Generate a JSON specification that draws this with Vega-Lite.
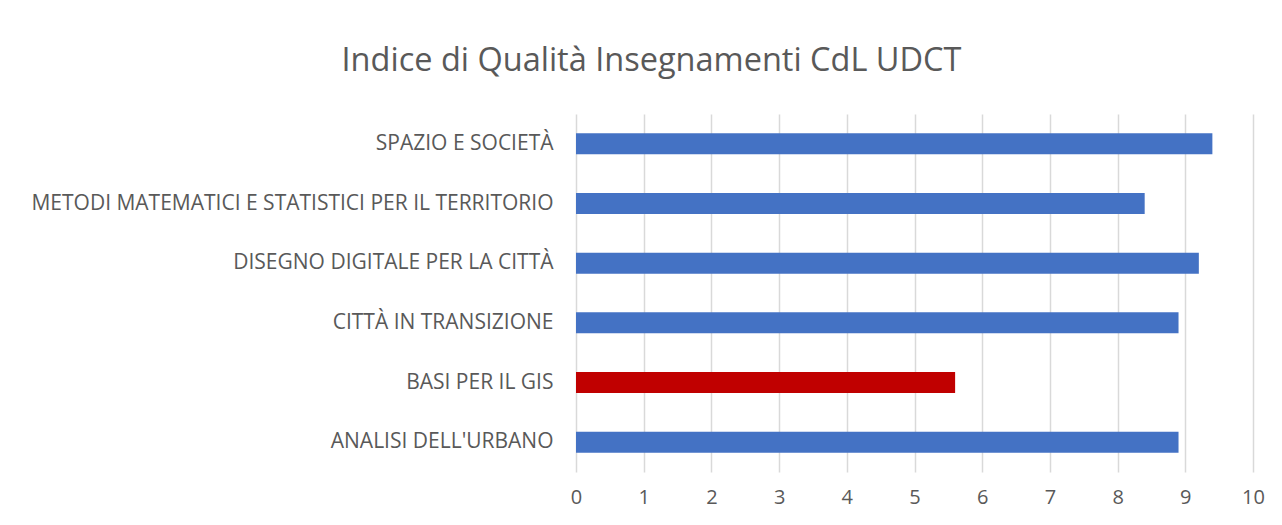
{
  "$schema": "https://vega.github.io/schema/vega-lite/v6.json",
  "width": 677,
  "height": 358,
  "autosize": {"type": "none"},
  "padding": {"left": 576, "top": 114, "right": 29, "bottom": 53},
  "background": "white",
  "title": {
    "text": "Indice di Qualità Insegnamenti CdL UDCT",
    "anchor": "middle",
    "dx": -263,
    "offset": 37,
    "fontSize": 32.5,
    "font": "Open Sans",
    "fontWeight": "normal",
    "color": "#595959"
  },
  "data": {
    "values": [
      {"corso": "SPAZIO E SOCIETÀ", "indice": 9.4, "critico": "no"},
      {"corso": "METODI MATEMATICI E STATISTICI PER IL TERRITORIO", "indice": 8.4, "critico": "no"},
      {"corso": "DISEGNO DIGITALE PER LA CITTÀ", "indice": 9.2, "critico": "no"},
      {"corso": "CITTÀ IN TRANSIZIONE", "indice": 8.9, "critico": "no"},
      {"corso": "BASI PER IL GIS", "indice": 5.6, "critico": "si"},
      {"corso": "ANALISI DELL'URBANO", "indice": 8.9, "critico": "no"}
    ]
  },
  "mark": {"type": "bar"},
  "encoding": {
    "y": {
      "field": "corso",
      "type": "nominal",
      "sort": null,
      "scale": {"paddingInner": 0.648, "paddingOuter": 0.324},
      "axis": {
        "title": null,
        "domain": false,
        "ticks": false,
        "tickSize": 0,
        "labelPadding": 23,
        "labelFont": "Open Sans",
        "labelFontSize": 21,
        "labelColor": "#595959",
        "labelLimit": 700
      }
    },
    "x": {
      "field": "indice",
      "type": "quantitative",
      "scale": {"domain": [0, 10], "nice": false},
      "axis": {
        "title": null,
        "domain": false,
        "ticks": false,
        "tickSize": 0,
        "values": [0,1,2,3,4,5,6,7,8,9,10],
        "labelOverlap": false,
        "labelFlush": false,
        "labelPadding": 15,
        "labelFont": "Open Sans",
        "labelFontSize": 20,
        "labelColor": "#595959",
        "grid": true,
        "gridColor": "#d9d9d9",
        "gridWidth": 1.5
      }
    },
    "color": {
      "field": "critico",
      "type": "nominal",
      "scale": {"domain": ["no", "si"], "range": ["#4472C4", "#C00000"]},
      "legend": null
    }
  },
  "config": {"view": {"stroke": null}}
}
